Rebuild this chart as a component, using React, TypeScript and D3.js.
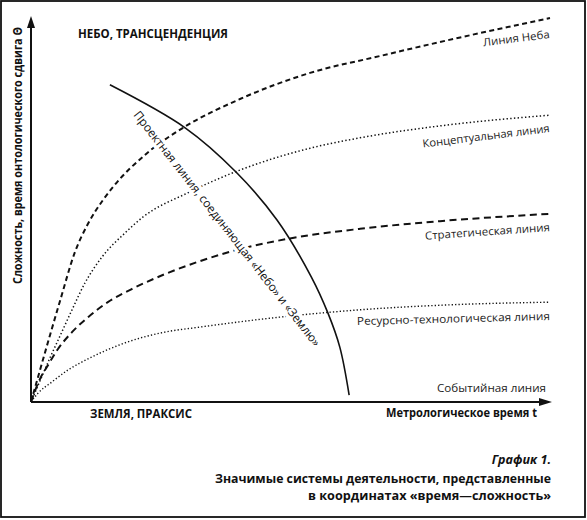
import * as d3 from 'd3';

const W = 587;
const H = 520;

// samples of each curve, [t, θ] in chart units (0..100 on both axes)
const skyLine: [number, number][] = [
  [0, 0], [1.73, 8.3], [3.66, 17.4], [5.59, 26.3], [8.48, 39.1], [10.98, 46.4],
  [13.87, 52.6], [15.8, 56.0], [22.35, 64.8], [29.29, 71.4], [40.27, 78.9],
  [53.76, 85.7], [67.24, 90.1], [78.8, 93.75], [100, 100],
];
const conceptLine: [number, number][] = [
  [0, 0], [1.73, 5.5], [3.66, 11.5], [5.59, 17.2], [7.9, 24.0], [10.4, 31.0], [13.7, 37.8],
  [18.1, 44.0], [21.6, 48.2], [30.1, 54.4], [39.3, 59.9], [53.8, 66.1], [63.4, 68.8],
  [78.8, 71.9], [100, 74.7],
];
const strategyLine: [number, number][] = [
  [0, 0], [0.77, 2.9], [1.73, 6.0], [3.28, 9.6], [5.2, 13.8], [7.9, 18.2], [11.0, 22.1],
  [14.8, 26.0], [20.0, 29.8], [25.8, 33.3], [32.6, 36.7], [38.3, 39.1], [49.9, 42.6],
  [63.4, 45.1], [78.8, 47.1], [100, 49.0],
];
const resourceLine: [number, number][] = [
  [0, 0], [1.35, 2.3], [4.0, 5.2], [7.1, 8.3], [11.7, 11.7], [18.1, 15.4], [25.8, 18.2],
  [32.5, 19.5], [47.9, 22.1], [63.3, 24.0], [80.6, 25.3], [100, 26.0],
];
const projectLine: [number, number][] = [
  [15.2, 82.6], [29.7, 71.4], [39.5, 59.9], [47.4, 47.4], [54.0, 32.6],
  [57.2, 23.2], [59.5, 14.3], [61.3, 1.8],
];

const lineNames = [
  'Линия Неба',
  'Концептуальная линия',
  'Стратегическая линия',
  'Ресурсно-технологическая линия',
  'Событийная линия',
];
const skyTitle = 'НЕБО, ТРАНСЦЕНДЕНЦИЯ';
const earthTitle = 'ЗЕМЛЯ, ПРАКСИС';
const xTitle = 'Метрологическое время t';
const yTitle = 'Сложность, время онтологического сдвига Θ';
const projectTitle = 'Проектная линия, соединяющая «Небо» и «Землю»';
const captionLines = [
  'График 1.',
  'Значимые системы деятельности, представленные',
  'в координатах «время—сложность»',
];

const INK = '#111';
const FONT = '"Open Sans", "DejaVu Sans", sans-serif';

export default function App() {
  const x = d3.scaleLinear().domain([0, 100]).range([31, 550]);
  const y = d3.scaleLinear().domain([0, 100]).range([402, 18]);

  const rising = d3.line<[number, number]>()
    .x(d => x(d[0])).y(d => y(d[1]))
    .curve(d3.curveMonotoneX);
  const arc = d3.line<[number, number]>()
    .x(d => x(d[0])).y(d => y(d[1]))
    .curve(d3.curveCatmullRom.alpha(0.5));

  const x0 = x(0);
  const y0 = y(0);

  // right-hand labels: end point and tilt
  const labelPos: [number, number, number][] = [
    [550, 38, -7],
    [550, 132, -7],
    [550, 231, -4],
    [550, 320, -1.5],
    [546, 392, 0],
  ];
  const labelLen = [67, 128, 125, 193, 109];

  return (
    <div style={{ position: 'absolute', left: 0, top: 0 }}>
      <svg width={W} height={H} style={{ display: 'block', background: '#fff' }} fontFamily={FONT}>
        <rect x={1} y={1} width={W - 3} height={H - 4} fill="#fff" stroke={INK} strokeWidth={1.8} />

        {/* curves */}
        <path d={rising(skyLine) ?? ''} fill="none" stroke={INK} strokeWidth={2} strokeDasharray="5,3.4" />
        <path d={rising(conceptLine) ?? ''} fill="none" stroke={INK} strokeWidth={1.5} strokeDasharray="1.4,2.3" />
        <path d={rising(strategyLine) ?? ''} fill="none" stroke={INK} strokeWidth={2} strokeDasharray="7,4.5" />
        <path d={rising(resourceLine) ?? ''} fill="none" stroke={INK} strokeWidth={1.4} strokeDasharray="1.3,2.1" />

        {/* project label breaks the curves it crosses */}
        <text
          transform={`translate(133,115) rotate(52)`}
          fontSize={12}
          fill={INK}
          stroke="#fff"
          strokeWidth={7}
          strokeLinejoin="round"
          paintOrder="stroke"
          textLength={295}
          lengthAdjust="spacingAndGlyphs"
        >
          {projectTitle}
        </text>

        <path d={arc(projectLine) ?? ''} fill="none" stroke={INK} strokeWidth={1.6} />

        {/* axes */}
        <line x1={x0} y1={y0} x2={x0} y2={26} stroke={INK} strokeWidth={2} />
        <path d={`M${x0},16 L${x0 - 4},28 L${x0 + 4},28 Z`} fill={INK} />
        <line x1={x0} y1={y0} x2={542} y2={y0} stroke={INK} strokeWidth={2} />
        <path d={`M552,${y0} L539,${y0 - 4} L539,${y0 + 4} Z`} fill={INK} />

        {/* line labels */}
        {lineNames.map((name, i) => (
          <text
            key={name}
            transform={`translate(${labelPos[i][0]},${labelPos[i][1]}) rotate(${labelPos[i][2]})`}
            textAnchor="end"
            fontSize={11}
            fill="#222"
            textLength={labelLen[i]}
            lengthAdjust="spacingAndGlyphs"
          >
            {name}
          </text>
        ))}

        {/* headings */}
        <text x={78} y={38} fontSize={11.5} fontWeight={700} fill={INK} textLength={150} lengthAdjust="spacingAndGlyphs">
          {skyTitle}
        </text>
        <text x={90} y={418} fontSize={11.5} fontWeight={700} fill={INK} textLength={102} lengthAdjust="spacingAndGlyphs">
          {earthTitle}
        </text>
        <text x={386} y={417} fontSize={11.5} fontWeight={700} fill={INK} textLength={151} lengthAdjust="spacingAndGlyphs">
          {xTitle}
        </text>
        <text
          transform="translate(22,284) rotate(-90)"
          fontSize={11.5}
          fontWeight={700}
          fill={INK}
          textLength={257}
          lengthAdjust="spacingAndGlyphs"
        >
          {yTitle}
        </text>

        {/* caption */}
        <text x={551} y={464} textAnchor="end" fontSize={12.5} fontWeight={700} fontStyle="italic" fill={INK}>
          {captionLines[0]}
        </text>
        <text x={551} y={483} textAnchor="end" fontSize={12.5} fontWeight={700} fill={INK} textLength={336} lengthAdjust="spacingAndGlyphs">
          {captionLines[1]}
        </text>
        <text x={551} y={500} textAnchor="end" fontSize={12.5} fontWeight={700} fill={INK} textLength={243} lengthAdjust="spacingAndGlyphs">
          {captionLines[2]}
        </text>
      </svg>
    </div>
  );
}
